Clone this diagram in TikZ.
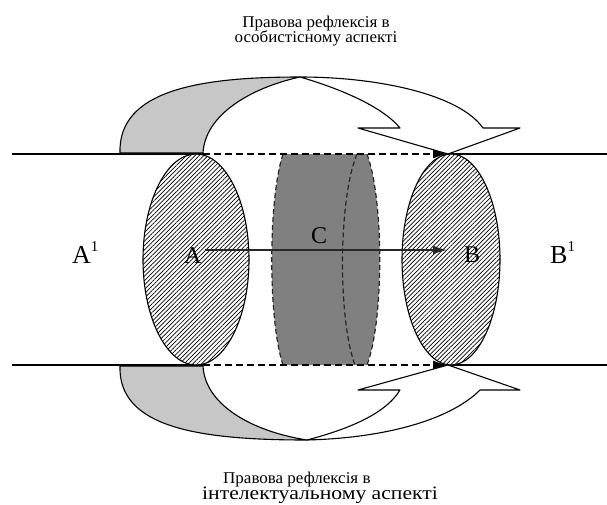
\documentclass[tikz,border=0pt]{standalone}
\usepackage{fontspec}
\setmainfont{Liberation Serif}
\usetikzlibrary{patterns.meta,arrows.meta,shapes.geometric}
\lineskiplimit=-100pt
\begin{document}
\begin{tikzpicture}[x=1pt,y=-1pt,
  mainline/.style={line width=1.8pt},
  dashline/.style={line width=1.5pt,dash pattern=on 7pt off 4pt},
  hatch/.style={ellipse,draw=black,line width=1.1pt,inner sep=0pt,
     preaction={fill=white},
     pattern={Lines[angle=45,distance=3.1pt,line width=0.7pt]}},
  ribbon/.style={draw=black,line width=1.1pt,line join=round},
  cyl/.style={draw=black!85,line width=1.2pt,dash pattern=on 5pt off 3pt},
  bigl/.style={font=\fontsize{26}{28}\selectfont,inner sep=0pt,anchor=base west},
  inl/.style={font=\fontsize{24}{28}\selectfont,inner sep=0pt,anchor=base west},
  ttl/.style={font=\fontsize{16.5}{15}\selectfont,inner sep=0pt}
]
\useasboundingbox (0,0) rectangle (607,504);
% coordinates
\coordinate (tl) at (12,154);
\coordinate (tm) at (203,154);
\coordinate (tt) at (448,154);
\coordinate (tr) at (607,154);
\coordinate (bl) at (12,365);
\coordinate (bm) at (203,365);
\coordinate (bt) at (448,365);
\coordinate (br) at (607,365);
% cylinder fill
\fill[black!50] (283,154) .. controls (268,200) and (268,320) .. (283,365)
  -- (367,365) .. controls (384,320) and (384,200) .. (367,154) -- cycle;
\draw[cyl] (283,154) .. controls (268,200) and (268,320) .. (283,365);
\draw[cyl] (367,154) .. controls (384,200) and (384,320) .. (367,365);
\draw[cyl] (357,154) .. controls (338,200) and (338,320) .. (355,365);
% horizontal lines
\draw[mainline] (tl) -- (tm);
\draw[dashline,-{Latex[length=15pt,width=9pt]}] (tm) -- (tt);
\draw[mainline] (tt) -- (tr);
\draw[mainline] (bl) -- (bm);
\draw[dashline,-{Latex[length=15pt,width=9pt]}] (bm) -- (bt);
\draw[mainline] (bt) -- (br);
% ellipses
\node[hatch,minimum width=106pt,minimum height=211pt] (ellA) at (196,259.5) {};
\node[hatch,minimum width=98pt,minimum height=211pt] (ellB) at (451,259.5) {};
% top ribbon arrow
\filldraw[ribbon,fill=black!22] (120,153) .. controls (118,90) and (200,77) .. (300,77)
  .. controls (250,88) and (205,115) .. (203,153) -- cycle;
\filldraw[ribbon,fill=white] (300,77) .. controls (380,77) and (460,95) .. (483,128)
  -- (520,128) -- (tt) -- (358,128) -- (400,128)
  .. controls (382,106) and (338,88) .. (300,77) -- cycle;
% bottom ribbon arrow
\filldraw[ribbon,fill=black!22] (120,366) .. controls (118,428) and (200,440) .. (307,440)
  .. controls (250,431) and (205,404) .. (203,366) -- cycle;
\filldraw[ribbon,fill=white] (307,440) .. controls (385,438) and (450,420) .. (480,390)
  -- (520,390) -- (bt) -- (358,390) -- (400,390)
  .. controls (385,415) and (345,430) .. (307,440) -- cycle;
% main arrow
\coordinate (a0) at (205,250);
\coordinate (b0) at (447,250);
\draw[line width=1.6pt,black!85,-{Latex[length=14pt,width=9pt]}] (a0) -- (b0);
% labels
\node[bigl] (lA1) at (72,263) {A\raisebox{0.43em}{\fontsize{15}{15}\selectfont 1}};
\node[bigl] (lB1) at (550,263) {B\raisebox{0.43em}{\fontsize{15}{15}\selectfont 1}};
\node[inl] (lA) at (184,263) {A};
\node[inl] (lB) at (464,262) {B};
\node[inl] (lC) at (311,243) {C};
\node[ttl,align=center,anchor=north] (top) at (316,15.5) {\scalebox{1.03}[1]{Правова рефлексія в}\\\scalebox{1.03}[1]{особистісному аспекті}};
\node[ttl,align=left,anchor=north west] (bot) at (202,472) {\hspace*{21pt}\scalebox{1.03}[1]{Правова рефлексія в}\\[0.5pt]\scalebox{1.14}[1]{\fontsize{19}{15}\selectfont інтелектуальному аспекті}};
\end{tikzpicture}
\end{document}
